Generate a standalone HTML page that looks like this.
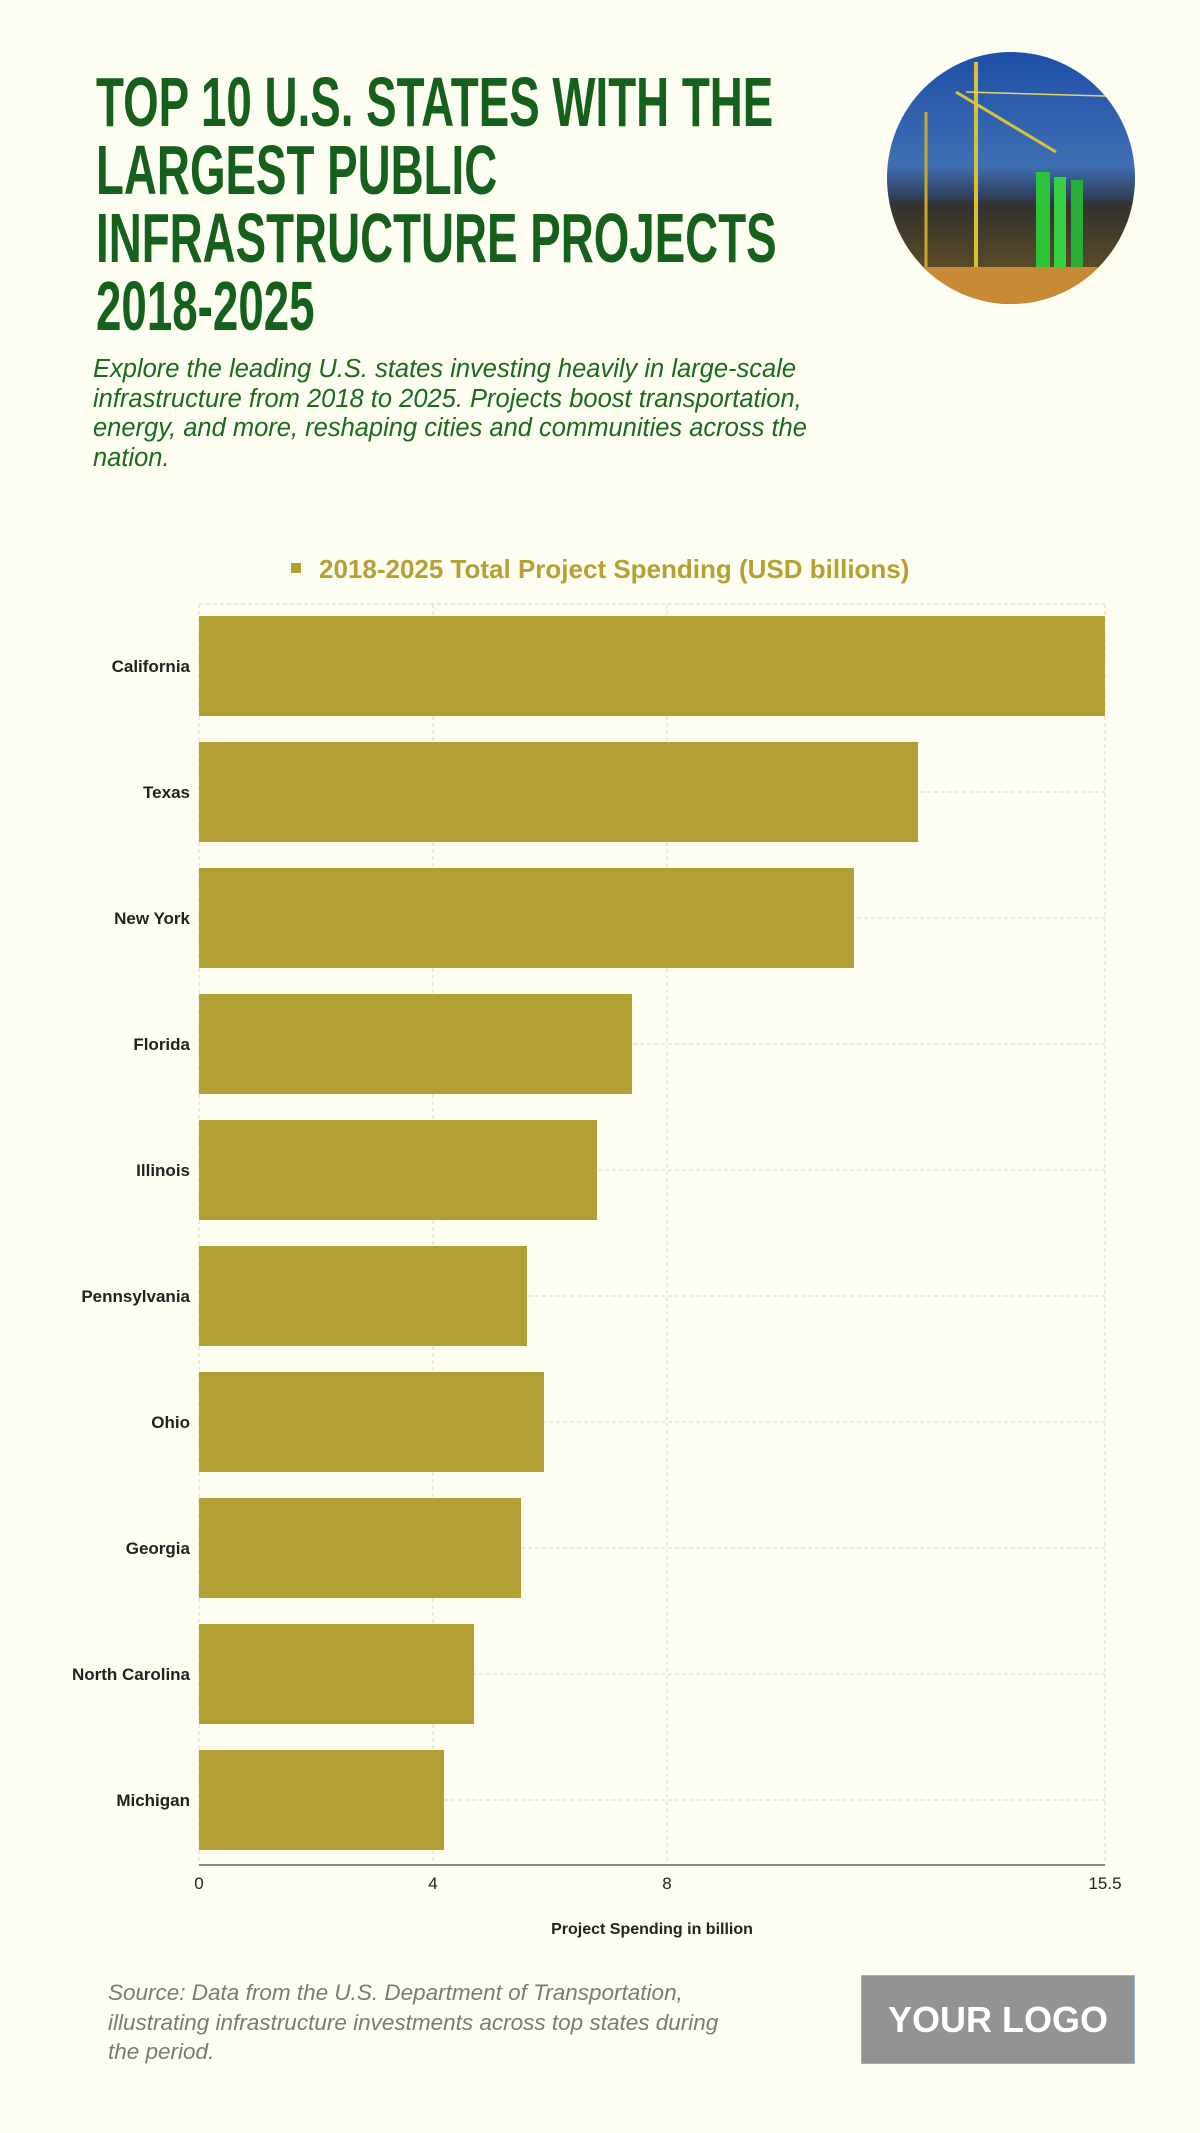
<!DOCTYPE html>
<html><head><meta charset="utf-8"><style>
html,body{margin:0;padding:0}
body{width:1200px;height:2133px;background:#fdfdf2;position:relative;overflow:hidden;font-family:"Liberation Sans",sans-serif}
.t{position:absolute;left:96px;top:68px;font-weight:bold;font-size:70px;line-height:68px;color:#15601c;transform:scaleX(0.653);transform-origin:0 0;white-space:nowrap}
.sub{position:absolute;left:93px;top:355px;font-style:italic;font-size:25.5px;line-height:29.6px;color:#1a6b1a;width:830px}
.lg{position:absolute;left:291px;top:554px;font-size:26px;font-weight:bold;color:#b5a033}
.lg i{display:inline-block;width:10px;height:10px;background:#b5a033;margin-right:18px;vertical-align:middle;position:relative;top:-3px}
.src{position:absolute;left:108px;top:1978px;font-style:italic;font-size:22.5px;line-height:29.5px;color:#7a7a7a;width:630px}
.logo{position:absolute;left:861px;top:1975px;width:272px;height:87px;background:#939393;border:1px solid #8fb4d4;color:#fff;font-weight:bold;font-size:36px;text-align:center;line-height:87px}
</style></head><body>
<div class="t">TOP 10 U.S. STATES WITH THE<br>LARGEST PUBLIC<br>INFRASTRUCTURE PROJECTS<br>2018-2025</div>
<div class="sub">Explore the leading U.S. states investing heavily in large-scale<br>infrastructure from 2018 to 2025. Projects boost transportation,<br>energy, and more, reshaping cities and communities across the<br>nation.</div>
<svg style="position:absolute;left:886px;top:52px" width="250" height="252">
<defs><clipPath id="c"><ellipse cx="125" cy="126" rx="124" ry="126"/></clipPath>
<linearGradient id="g" x1="0" y1="0" x2="0" y2="1"><stop offset="0" stop-color="#1d4fa8"/><stop offset="0.45" stop-color="#3f6fb3"/><stop offset="0.62" stop-color="#2a2f3a"/><stop offset="0.85" stop-color="#8a6a2a"/><stop offset="1" stop-color="#d89a3a"/></linearGradient></defs>
<g clip-path="url(#c)"><rect width="250" height="252" fill="url(#g)"/>
<rect x="0" y="150" width="250" height="102" fill="#3a3526" opacity="0.6"/>
<rect x="150" y="120" width="14" height="100" fill="#2ec43a"/><rect x="168" y="125" width="12" height="95" fill="#35d245"/><rect x="185" y="128" width="12" height="90" fill="#28b036"/>
<line x1="90" y1="10" x2="90" y2="220" stroke="#d8c23a" stroke-width="4"/><line x1="70" y1="40" x2="170" y2="100" stroke="#d8c23a" stroke-width="3"/>
<line x1="40" y1="60" x2="40" y2="220" stroke="#c9a830" stroke-width="3"/><line x1="80" y1="40" x2="250" y2="45" stroke="#e8d070" stroke-width="1.5"/>
<rect x="0" y="215" width="250" height="37" fill="#c88a35"/></g></svg>
<div class="lg"><i></i>2018-2025 Total Project Spending (USD billions)</div>
<svg style="position:absolute;left:0;top:0" width="1200" height="2000" font-family="Liberation Sans,sans-serif">
<g stroke="#d6d6ce" stroke-width="1" stroke-dasharray="4,3" fill="none">
<line x1="199" y1="604" x2="1105" y2="604"/>
<line x1="199" y1="604" x2="199" y2="1865"/><line x1="433" y1="604" x2="433" y2="1865"/><line x1="667" y1="604" x2="667" y2="1865"/><line x1="1105" y1="604" x2="1105" y2="1865"/>
<line x1="199" y1="666" x2="1105" y2="666"/><line x1="199" y1="792" x2="1105" y2="792"/><line x1="199" y1="918" x2="1105" y2="918"/><line x1="199" y1="1044" x2="1105" y2="1044"/><line x1="199" y1="1170" x2="1105" y2="1170"/><line x1="199" y1="1296" x2="1105" y2="1296"/><line x1="199" y1="1422" x2="1105" y2="1422"/><line x1="199" y1="1548" x2="1105" y2="1548"/><line x1="199" y1="1674" x2="1105" y2="1674"/><line x1="199" y1="1800" x2="1105" y2="1800"/>
</g>
<g fill="#b3a033">
<rect x="199" y="616" width="906" height="100"/>
<rect x="199" y="742" width="719" height="100"/>
<rect x="199" y="868" width="655" height="100"/>
<rect x="199" y="994" width="433" height="100"/>
<rect x="199" y="1120" width="398" height="100"/>
<rect x="199" y="1246" width="328" height="100"/>
<rect x="199" y="1372" width="345" height="100"/>
<rect x="199" y="1498" width="322" height="100"/>
<rect x="199" y="1624" width="275" height="100"/>
<rect x="199" y="1750" width="245" height="100"/>
</g>
<line x1="199" y1="1865" x2="1105" y2="1865" stroke="#888" stroke-width="2"/>
<g font-size="17" font-weight="bold" fill="#222" text-anchor="end">
<text x="190" y="672">California</text><text x="190" y="798">Texas</text><text x="190" y="924">New York</text><text x="190" y="1050">Florida</text><text x="190" y="1176">Illinois</text><text x="190" y="1302">Pennsylvania</text><text x="190" y="1428">Ohio</text><text x="190" y="1554">Georgia</text><text x="190" y="1680">North Carolina</text><text x="190" y="1806">Michigan</text>
</g>
<g font-size="17" fill="#222" text-anchor="middle">
<text x="199" y="1889">0</text><text x="433" y="1889">4</text><text x="667" y="1889">8</text><text x="1105" y="1889">15.5</text>
<text x="652" y="1934" font-weight="bold" font-size="16">Project Spending in billion</text>
</g></svg>
<div class="src">Source: Data from the U.S. Department of Transportation,<br>illustrating infrastructure investments across top states during<br>the period.</div>
<div class="logo">YOUR LOGO</div>
</body></html>
